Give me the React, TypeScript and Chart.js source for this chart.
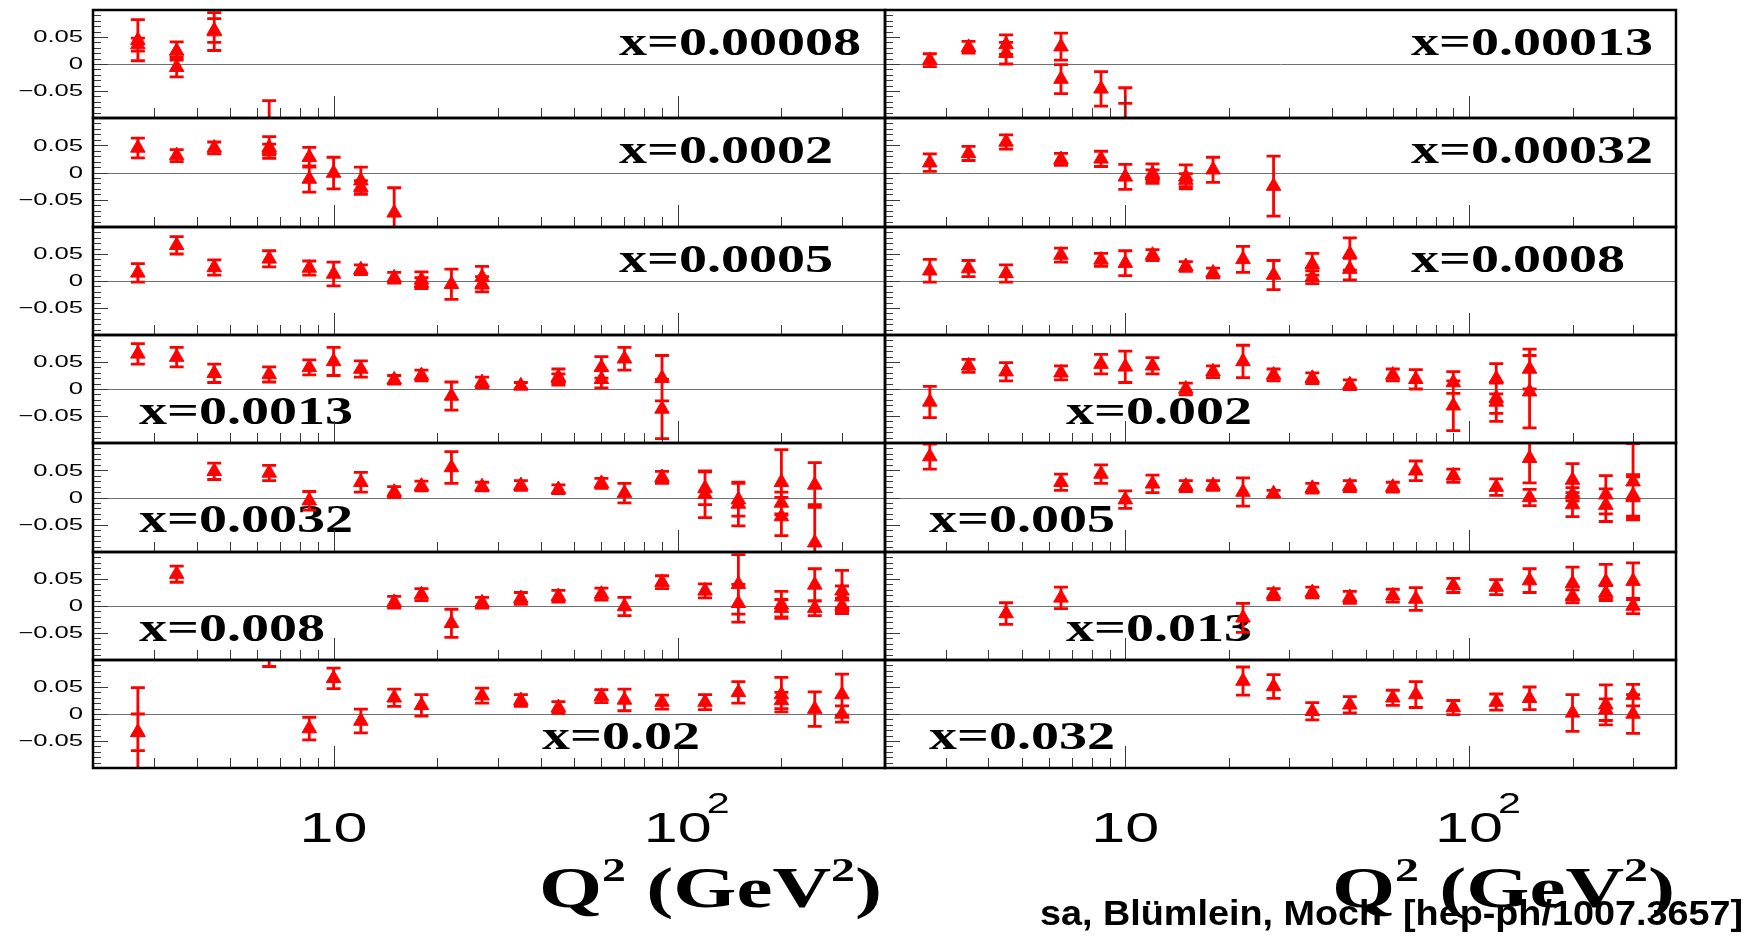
import React, { useEffect, useRef } from 'react';
import { Chart, registerables } from 'chart.js';

Chart.register(...registerables);

// [Q^2 (GeV^2), value, error]
type Pt = [number, number, number];

// ---- measurements, one array per x bin ----
const bin00008: Pt[] = [
  [2.7, 0.044, 0.038], [2.7, 0.036, 0.012],
  [3.5, 0.024, 0.017], [3.5, -0.006, 0.018],
  [4.5, 0.062, 0.022], [4.5, 0.060, 0.035],
  [6.5, -0.110, 0.042],
];
const bin00013: Pt[] = [
  [2.7, 0.007, 0.012], [3.5, 0.031, 0.011],
  [4.5, 0.036, 0.018], [4.5, 0.020, 0.020],
  [6.5, 0.032, 0.025], [6.5, -0.028, 0.027],
  [8.5, -0.046, 0.032], [10, -0.110, 0.037], [10, -0.110, 0.066],
];
const bin0002: Pt[] = [
  [2.7, 0.045, 0.018], [3.5, 0.031, 0.011], [4.5, 0.045, 0.011],
  [6.5, 0.046, 0.020], [6.5, 0.042, 0.010],
  [8.5, 0.028, 0.018], [8.5, -0.012, 0.024],
  [10, -0.001, 0.029], [12, -0.015, 0.025], [12, -0.027, 0.012],
  [15, -0.074, 0.046],
];
const bin00032: Pt[] = [
  [2.7, 0.018, 0.016], [3.5, 0.035, 0.013], [4.5, 0.056, 0.013], [6.5, 0.024, 0.011],
  [8.5, 0.025, 0.014], [10, -0.008, 0.023], [12, -0.002, 0.018], [12, -0.005, 0.010],
  [15, -0.008, 0.022], [15, -0.014, 0.012], [18, 0.005, 0.023], [27, -0.025, 0.055],
];
const bin0005: Pt[] = [
  [2.7, 0.015, 0.017], [3.5, 0.066, 0.016], [4.5, 0.025, 0.014], [6.5, 0.041, 0.015],
  [8.5, 0.024, 0.013], [10, 0.013, 0.022], [12, 0.021, 0.009], [15, 0.006, 0.010],
  [18, 0.002, 0.015], [18, -0.004, 0.010], [22, -0.006, 0.028],
  [27, 0.007, 0.020], [27, -0.006, 0.014],
];
const bin0008: Pt[] = [
  [2.7, 0.019, 0.021], [3.5, 0.023, 0.015], [4.5, 0.014, 0.016], [6.5, 0.048, 0.013],
  [8.5, 0.039, 0.012], [10, 0.033, 0.023], [12, 0.048, 0.010], [15, 0.027, 0.009],
  [18, 0.015, 0.009], [22, 0.040, 0.024], [27, 0.011, 0.027],
  [35, 0.031, 0.020], [35, 0.007, 0.012], [45, 0.050, 0.030], [45, 0.022, 0.020],
];
const bin0013: Pt[] = [
  [2.7, 0.065, 0.019], [3.5, 0.059, 0.018], [4.5, 0.029, 0.017], [6.5, 0.027, 0.014],
  [8.5, 0.040, 0.014], [10, 0.051, 0.026], [12, 0.037, 0.015], [15, 0.017, 0.008],
  [18, 0.025, 0.010], [22, -0.013, 0.026], [27, 0.012, 0.010], [35, 0.006, 0.006],
  [45, 0.022, 0.015], [45, 0.020, 0.008], [60, 0.040, 0.020], [60, 0.018, 0.016],
  [70, 0.056, 0.021], [90, 0.020, 0.042], [90, -0.037, 0.055],
];
const bin002: Pt[] = [
  [2.7, -0.024, 0.029], [3.5, 0.043, 0.012], [4.5, 0.032, 0.017], [6.5, 0.030, 0.013],
  [8.5, 0.046, 0.018], [10, 0.041, 0.029], [12, 0.043, 0.015], [15, 0.000, 0.011],
  [18, 0.032, 0.011], [22, 0.051, 0.030], [27, 0.026, 0.011], [35, 0.020, 0.010],
  [45, 0.008, 0.009], [60, 0.026, 0.011], [70, 0.018, 0.018],
  [90, 0.012, 0.020], [90, -0.031, 0.046],
  [120, 0.019, 0.028], [120, -0.017, 0.028], [120, -0.024, 0.036],
  [150, 0.037, 0.037], [150, -0.005, 0.067],
];
const bin0032: Pt[] = [
  [4.5, 0.048, 0.015], [6.5, 0.045, 0.014], [8.5, -0.006, 0.017], [12, 0.028, 0.018],
  [15, 0.010, 0.010], [18, 0.021, 0.009], [22, 0.055, 0.029], [27, 0.020, 0.008],
  [35, 0.022, 0.009], [45, 0.015, 0.008], [60, 0.026, 0.009], [70, 0.008, 0.018],
  [90, 0.037, 0.011], [120, 0.017, 0.030], [120, 0.006, 0.043],
  [150, -0.004, 0.030], [150, -0.012, 0.040],
  [200, 0.028, 0.060], [200, -0.010, 0.020], [200, -0.035, 0.035],
  [250, 0.023, 0.041], [250, -0.083, 0.070],
];
const bin005: Pt[] = [
  [2.7, 0.075, 0.023], [6.5, 0.028, 0.015], [8.5, 0.043, 0.017], [10, -0.004, 0.016],
  [12, 0.025, 0.016], [15, 0.021, 0.010], [18, 0.022, 0.009], [22, 0.010, 0.026],
  [27, 0.007, 0.006], [35, 0.017, 0.009], [45, 0.021, 0.010], [60, 0.019, 0.009],
  [70, 0.049, 0.018], [90, 0.040, 0.012], [120, 0.019, 0.015],
  [150, 0.072, 0.045], [150, 0.000, 0.015],
  [200, 0.032, 0.030], [200, 0.006, 0.012], [200, -0.013, 0.022],
  [250, 0.005, 0.035], [250, -0.014, 0.030],
  [300, 0.029, 0.070], [300, 0.004, 0.038], [300, 0.000, 0.038],
];
const bin008: Pt[] = [
  [3.5, 0.059, 0.015], [15, 0.007, 0.011], [18, 0.021, 0.011], [22, -0.032, 0.026],
  [27, 0.006, 0.010], [35, 0.014, 0.011], [45, 0.018, 0.011], [60, 0.022, 0.011],
  [70, -0.001, 0.017], [90, 0.044, 0.012], [120, 0.028, 0.013],
  [150, 0.040, 0.055], [150, 0.005, 0.035],
  [200, 0.002, 0.025], [200, -0.004, 0.016],
  [250, 0.039, 0.030], [250, -0.004, 0.014],
  [300, 0.028, 0.038], [300, 0.017, 0.020], [300, 0.000, 0.014],
];
const bin013: Pt[] = [
  [4.5, -0.014, 0.020], [6.5, 0.015, 0.020], [22, -0.022, 0.027], [27, 0.022, 0.010],
  [35, 0.025, 0.010], [45, 0.016, 0.011], [60, 0.019, 0.012], [70, 0.013, 0.021],
  [90, 0.038, 0.013], [120, 0.035, 0.014], [150, 0.047, 0.022],
  [200, 0.042, 0.030], [200, 0.018, 0.012],
  [250, 0.045, 0.032], [250, 0.024, 0.014],
  [300, 0.046, 0.034], [300, 0.000, 0.014],
];
const bin02: Pt[] = [
  [2.7, -0.034, 0.034], [2.7, -0.034, 0.083], [6.5, 0.120, 0.032],
  [8.5, -0.027, 0.021], [10, 0.066, 0.019], [12, -0.013, 0.022], [15, 0.030, 0.016],
  [18, 0.016, 0.020], [27, 0.034, 0.014], [35, 0.025, 0.011], [45, 0.012, 0.011],
  [60, 0.033, 0.012], [70, 0.026, 0.020], [90, 0.022, 0.013], [120, 0.022, 0.014],
  [150, 0.040, 0.020], [200, 0.036, 0.032], [200, 0.025, 0.015],
  [250, 0.009, 0.032], [300, 0.036, 0.038], [300, 0.000, 0.015],
];
const bin032: Pt[] = [
  [22, 0.061, 0.026], [27, 0.051, 0.022], [35, 0.005, 0.016], [45, 0.017, 0.015],
  [60, 0.030, 0.014], [70, 0.036, 0.024], [90, 0.012, 0.013], [120, 0.022, 0.015],
  [150, 0.029, 0.021], [200, 0.002, 0.034],
  [250, 0.017, 0.037], [250, 0.008, 0.020],
  [300, 0.035, 0.020], [300, 0.000, 0.036],
];

// panels are listed row by row, left column first
const BIN_LABELS = [
  'x=0.00008', 'x=0.00013', 'x=0.0002', 'x=0.00032', 'x=0.0005', 'x=0.0008', 'x=0.0013',
  'x=0.002', 'x=0.0032', 'x=0.005', 'x=0.008', 'x=0.013', 'x=0.02', 'x=0.032',
];
const BIN_DATA: Pt[][] = [
  bin00008, bin00013, bin0002, bin00032, bin0005, bin0008, bin0013,
  bin002, bin0032, bin005, bin008, bin013, bin02, bin032,
];

// ---- axes ----
const Q2_MIN = 2;
const Q2_MAX = 400;
const Y_MIN = -0.1;
const Y_MAX = 0.1;
const X_MAJOR_TICKS = [10, 100];
const X_TICK_LABELS = ['10', '10'];
const X_TICK_EXPONENTS = ['', '2'];
const X_MINOR_TICKS = [3, 4, 5, 6, 7, 8, 9, 20, 30, 40, 50, 60, 70, 80, 90, 200, 300];
const Y_MAJOR_TICKS = [0.05, 0, -0.05];
const Y_TICK_LABELS = ['0.05', '0', '\u22120.05'];
const Y_MINOR_TICKS = [
  -0.09, -0.08, -0.07, -0.06, -0.04, -0.03, -0.02, -0.01,
  0.01, 0.02, 0.03, 0.04, 0.06, 0.07, 0.08, 0.09,
];
const AXIS_TITLE_MAIN = ['Q', ' (GeV', ')'];
const AXIS_TITLE_SUP = ['2', '2', ''];
const CREDIT = 'sa, Bl\u00fcmlein, Moch  [hep-ph/1007.3657]';

// ---- page layout ----
const PAGE_W = 1762;
const PAGE_H = 937;
const COL_LEFT = [93, 885];
const COL_RIGHT = [885, 1676];
const ROW_TOP = 10;
const ROW_H = 108.3;
const N_ROWS = 7;
const MARGIN = 14;
// start of each panel's bin label (page x) and whether it sits low in the panel
const LABEL_X = [619, 1411, 619, 1411, 619, 1411, 139, 1066, 139, 929, 139, 1066, 542, 929];
const LABEL_LOW = [false, false, false, false, false, false, true, true, true, true, true, true, true, true];
const TITLE_X = [539, 1332];
const TITLE_W = 343;
const CREDIT_X = 1040;
const CREDIT_W = 703;

const RED = '#ff0000';
const CAP = 7;

function stretchedText(
  ctx: CanvasRenderingContext2D, text: string, x: number, y: number,
  font: string, sx: number, align: CanvasTextAlign = 'left', base: CanvasTextBaseline = 'alphabetic',
) {
  ctx.save();
  ctx.font = font;
  ctx.textAlign = align;
  ctx.textBaseline = base;
  ctx.translate(x, y);
  ctx.scale(sx, 1);
  ctx.fillText(text, 0, 0);
  ctx.restore();
}

function drawAxisTitle(ctx: CanvasRenderingContext2D, x: number, baseline: number) {
  const mainFont = 'bold 56px "Liberation Serif"';
  const supFont = 'bold 33px "Liberation Serif"';
  let natural = 0;
  AXIS_TITLE_MAIN.forEach((t, i) => {
    ctx.font = mainFont;
    natural += ctx.measureText(t).width;
    ctx.font = supFont;
    natural += ctx.measureText(AXIS_TITLE_SUP[i]).width;
  });
  const sx = TITLE_W / natural;
  let cx = x;
  AXIS_TITLE_MAIN.forEach((t, i) => {
    ctx.font = mainFont;
    stretchedText(ctx, t, cx, baseline, mainFont, sx);
    cx += ctx.measureText(t).width * sx;
    const s = AXIS_TITLE_SUP[i];
    if (s) {
      ctx.font = supFont;
      stretchedText(ctx, s, cx, baseline - 26, supFont, sx);
      cx += ctx.measureText(s).width * sx;
    }
  });
}

interface PanelCfg {
  idx: number;
  col: number;
  row: number;
  left: number;
  top: number;
  width: number;
  height: number;
  pad: { left: number; right: number; top: number; bottom: number };
}

function panelGeometry(idx: number): PanelCfg {
  const col = idx % 2;
  const row = Math.floor(idx / 2);
  const l = COL_LEFT[col];
  const r = COL_RIGHT[col];
  const t = Math.round(ROW_TOP + row * ROW_H);
  const b = Math.round(ROW_TOP + (row + 1) * ROW_H);
  const cl = col === 0 ? 0 : l - MARGIN;
  const cr = col === 0 ? r + MARGIN : PAGE_W;
  const ct = row === 0 ? 0 : t - MARGIN;
  const cb = row === N_ROWS - 1 ? PAGE_H : b + MARGIN;
  return {
    idx, col, row, left: cl, top: ct, width: cr - cl, height: cb - ct,
    pad: { left: l - cl, right: cr - r, top: t - ct, bottom: cb - b },
  };
}

function makeDecor(cfg: PanelCfg) {
  const pts = BIN_DATA[cfg.idx];
  const label = BIN_LABELS[cfg.idx];
  const labelX = LABEL_X[cfg.idx] - cfg.left;
  const low = LABEL_LOW[cfg.idx];
  return {
    id: 'panelDecor',
    beforeDatasetsDraw(chart: any) {
      const { ctx, chartArea: a } = chart;
      const xs = chart.scales.x;
      const ys = chart.scales.y;
      ctx.save();
      ctx.beginPath();
      ctx.rect(a.left, a.top, a.right - a.left, a.bottom - a.top);
      ctx.clip();
      // zero line
      const y0 = Math.round(ys.getPixelForValue(0)) + 0.5;
      ctx.strokeStyle = '#707070';
      ctx.lineWidth = 1;
      ctx.beginPath();
      ctx.moveTo(a.left, y0);
      ctx.lineTo(a.right, y0);
      ctx.stroke();
      // bin label
      ctx.fillStyle = '#000';
      stretchedText(ctx, label, labelX, a.top + (low ? 89 : 45), 'bold 40px "Liberation Serif"', 1.4);
      // error bars
      ctx.strokeStyle = RED;
      ctx.lineWidth = 2.8;
      ctx.beginPath();
      for (const [q, v, e] of pts) {
        const px = xs.getPixelForValue(q);
        const hi = ys.getPixelForValue(v + e);
        const lo = ys.getPixelForValue(v - e);
        ctx.moveTo(px, hi);
        ctx.lineTo(px, lo);
        ctx.moveTo(px - CAP, hi);
        ctx.lineTo(px + CAP, hi);
        ctx.moveTo(px - CAP, lo);
        ctx.lineTo(px + CAP, lo);
      }
      ctx.stroke();
      ctx.restore();
    },
    afterDatasetsDraw(chart: any) {
      const { ctx, chartArea: a } = chart;
      const xs = chart.scales.x;
      const ys = chart.scales.y;
      ctx.save();
      // inward tick marks
      ctx.strokeStyle = '#3a3a3a';
      ctx.lineWidth = 1;
      ctx.beginPath();
      for (const v of Y_MAJOR_TICKS) {
        const py = Math.round(ys.getPixelForValue(v)) + 0.5;
        ctx.moveTo(a.left, py);
        ctx.lineTo(a.left + 15, py);
      }
      for (const v of Y_MINOR_TICKS) {
        const py = Math.round(ys.getPixelForValue(v)) + 0.5;
        ctx.moveTo(a.left, py);
        ctx.lineTo(a.left + 8, py);
      }
      for (const q of X_MAJOR_TICKS) {
        const px = Math.round(xs.getPixelForValue(q)) + 0.5;
        ctx.moveTo(px, a.bottom);
        ctx.lineTo(px, a.bottom - 22);
      }
      for (const q of X_MINOR_TICKS) {
        const px = Math.round(xs.getPixelForValue(q)) + 0.5;
        ctx.moveTo(px, a.bottom);
        ctx.lineTo(px, a.bottom - 10);
      }
      ctx.stroke();
      // frame
      ctx.strokeStyle = '#000';
      ctx.lineWidth = 2.5;
      ctx.strokeRect(a.left, a.top, a.right - a.left, a.bottom - a.top);
      ctx.fillStyle = '#000';
      // y tick labels on the left column
      if (cfg.col === 0) {
        Y_MAJOR_TICKS.forEach((v, i) => {
          stretchedText(ctx, Y_TICK_LABELS[i], a.left - 10, ys.getPixelForValue(v) + 1,
            '16px "Liberation Sans"', 1.6, 'right', 'middle');
        });
      }
      // x tick labels and axis title under the bottom row
      if (cfg.row === N_ROWS - 1) {
        const font = '43px "Liberation Sans"';
        X_MAJOR_TICKS.forEach((q, i) => {
          const px = xs.getPixelForValue(q);
          ctx.font = font;
          const w = ctx.measureText(X_TICK_LABELS[i]).width * 1.42;
          stretchedText(ctx, X_TICK_LABELS[i], px, a.bottom + 74, font, 1.42, 'center');
          if (X_TICK_EXPONENTS[i]) {
            stretchedText(ctx, X_TICK_EXPONENTS[i], px + w / 2 - 5, a.bottom + 45,
              '29px "Liberation Sans"', 1.42, 'left');
          }
        });
        drawAxisTitle(ctx, TITLE_X[cfg.col] - cfg.left, a.bottom + 139);
        if (cfg.col === 1) {
          const cf = 'bold 35px "Liberation Sans"';
          ctx.font = cf;
          const sx = CREDIT_W / ctx.measureText(CREDIT).width;
          stretchedText(ctx, CREDIT, CREDIT_X - cfg.left, a.bottom + 157, cf, sx);
        }
      }
      ctx.restore();
    },
  };
}

function Panel({ idx }: { idx: number }) {
  const ref = useRef<HTMLCanvasElement>(null);
  const cfg = panelGeometry(idx);
  useEffect(() => {
    if (!ref.current) return;
    const pts = BIN_DATA[idx];
    const chart = new Chart(ref.current, {
      type: 'scatter',
      data: {
        datasets: [{
          data: pts.map(([q, v]) => ({ x: q, y: v })),
          pointStyle: 'triangle',
          pointRadius: 8.4,
          pointHoverRadius: 8.4,
          backgroundColor: RED,
          borderColor: RED,
          borderWidth: 1,
          clip: 0,
        } as any],
      },
      options: {
        animation: false,
        responsive: false,
        devicePixelRatio: 1,
        events: [],
        layout: { padding: cfg.pad },
        scales: {
          x: { type: 'logarithmic', min: Q2_MIN, max: Q2_MAX, display: false },
          y: { type: 'linear', min: Y_MIN, max: Y_MAX, display: false },
        },
        plugins: {
          legend: { display: false },
          tooltip: { enabled: false },
          title: { display: false },
        },
      },
      plugins: [makeDecor(cfg)],
    });
    return () => chart.destroy();
  }, [idx]);
  return (
    <canvas
      ref={ref}
      width={cfg.width}
      height={cfg.height}
      style={{ position: 'absolute', left: cfg.left, top: cfg.top, width: cfg.width, height: cfg.height }}
    />
  );
}

export default function App() {
  return (
    <div
      style={{
        position: 'absolute', left: 0, top: 0, width: PAGE_W, height: PAGE_H,
        background: '#fff', overflow: 'hidden',
      }}
    >
      {BIN_DATA.map((_, i) => <Panel key={i} idx={i} />)}
    </div>
  );
}
